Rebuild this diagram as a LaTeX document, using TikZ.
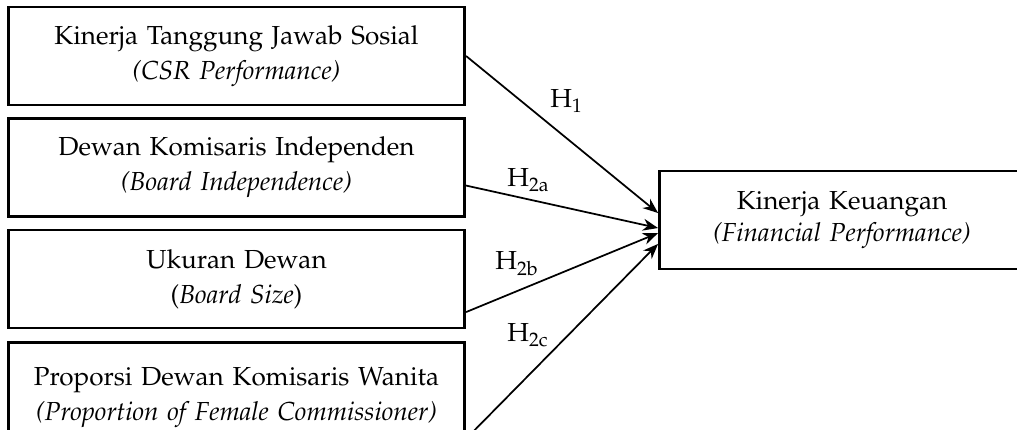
\documentclass[tikz,border=0pt]{standalone}
\usepackage[T1]{fontenc}
\usepackage{mathpazo}
\usepackage{tikz}
\usetikzlibrary{arrows.meta,positioning}

\begin{document}
\begin{tikzpicture}[
    x=0.46pt, y=-0.46pt,
    node distance=5.1pt,
    varbox/.style={rectangle, draw, line width=1.2pt, minimum width=210pt, minimum height=45pt, text width=205pt, align=center, inner sep=0pt, font=\fontsize{12}{16}\selectfont},
    depbox/.style={rectangle, draw, line width=1.2pt, minimum width=168pt, minimum height=45pt, text width=165pt, align=center, inner sep=0pt, font=\fontsize{12}{15}\selectfont},
    arrow/.style={line width=0.8pt,->,>={Stealth[length=7pt,width=5.5pt]}},
    hyp/.style={anchor=base west, inner sep=0pt, font=\fontsize{12}{14}\selectfont}
]
\useasboundingbox (0,0) rectangle (1017,430);
\clip (0,0) rectangle (1017,430);

% Left column - independent variables
\node[varbox] (csr) at (236.5,56) {Kinerja Tanggung Jawab Sosial\\\textit{(CSR Performance)}};
\node[varbox, below=of csr] (board) {Dewan Komisaris Independen\\\textit{(Board Independence)}};
\node[varbox, below=of board] (size) {Ukuran Dewan\\(\textit{Board Size})};
\node[varbox, below=5.5pt of size, minimum height=50.6pt] (female) {Proporsi Dewan Komisaris Wanita\\\textit{(Proportion of Female Commissioner)}};

% Right - dependent variable
\node[depbox] (fin) at (842,220) {Kinerja Keuangan\\\textit{(Financial Performance)}};

% Arrows
\draw[arrow] (csr.east) -- ([yshift=3.2pt]fin.west);
\draw[arrow] ([yshift=-8.3pt]board.east) -- ([yshift=-3.7pt]fin.west);
\draw[arrow] ([yshift=-15.2pt]size.east) -- ([yshift=-6pt]fin.west);
\draw[arrow] ([yshift=6.9pt]female.south east) -- ([yshift=-11pt]fin.west);

% Hypothesis labels
\node[hyp] (h1) at (550,108) {H\textsubscript{1}};
\node[hyp] (h2a) at (507,187) {H\textsubscript{2a}};
\node[hyp] (h2b) at (495,270) {H\textsubscript{2b}};
\node[hyp] (h2c) at (507,342) {H\textsubscript{2c}};

\end{tikzpicture}
\end{document}
